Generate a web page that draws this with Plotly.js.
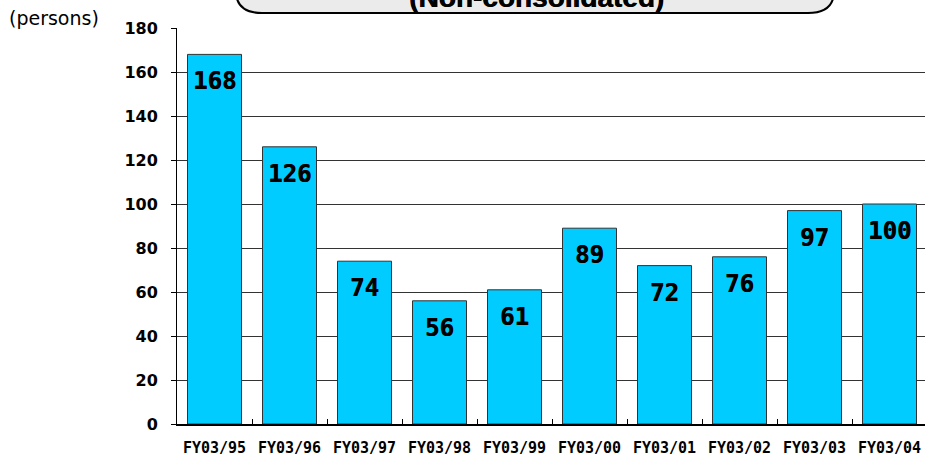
<!DOCTYPE html>
<html>
<head>
<meta charset="utf-8">
<script src="https://cdn.plot.ly/plotly-3.0.1.min.js"></script>
<style>html,body{margin:0;padding:0;background:#fff;}#chart{width:925px;height:456px;}</style>
</head>
<body>
<div id="chart"></div>
<script>
const categories = ["FY03/95","FY03/96","FY03/97","FY03/98","FY03/99","FY03/00","FY03/01","FY03/02","FY03/03","FY03/04"];
const employees = [168,126,74,56,61,89,72,76,97,100];
const yTicks = [0,20,40,60,80,100,120,140,160,180];
const unitLabel = "(persons)";
const titleText = "(Non-consolidated)";

const W = 925, H = 456, L = 177, R = 0, T = 28, B = 32;
const pw = W - L - R, ph = H - T - B;
const px = v => (v - L) / pw;          // pixel x -> paper x
const py = v => (H - B - v) / ph;      // pixel y -> paper y

// rounded title box path (paper coords)
const bx0 = 236, bx1 = 834, by0 = -40, by1 = 13, rx = 26, ry = 22;
const boxPath = [
  "M", px(bx0), py(by0),
  "L", px(bx0), py(by1 - ry),
  "Q", px(bx0), py(by1), px(bx0 + rx), py(by1),
  "L", px(bx1 - rx), py(by1),
  "Q", px(bx1), py(by1), px(bx1), py(by1 - ry),
  "L", px(bx1), py(by0), "Z"
].join(" ");

const annotations = categories.map((c, i) => ({
  x: c, y: employees[i], xref: "x", yref: "y",
  text: String(employees[i]), showarrow: false,
  yanchor: "middle", yshift: -27,
  font: {family: "DejaVu Sans Mono", size: 24, color: "#000", weight: "bold", shadow: "0.6px 0 0 #000"}
}));
annotations.push({
  xref: "paper", yref: "paper", x: 0, y: 1, xshift: -L + 7, yshift: 10,
  xanchor: "left", yanchor: "middle", showarrow: false,
  text: unitLabel, font: {family: "DejaVu Sans", size: 19, color: "#000"}
});
annotations.push({
  xref: "paper", yref: "paper", x: px(536), y: py(-3),
  xanchor: "center", yanchor: "middle", showarrow: false,
  text: "<b>" + titleText + "</b>", font: {family: "Liberation Sans", size: 28, color: "#000", shadow: "0.6px 0 0 #000"}
});

const data = [{
  type: "bar", x: categories, y: employees,
  marker: {color: "#00ccff", line: {color: "#333", width: 1}},
  hoverinfo: "none"
}];

const layout = {
  width: W, height: H,
  margin: {l: L, r: R, t: T, b: B, pad: 0},
  paper_bgcolor: "#fff", plot_bgcolor: "#fff",
  bargap: 0.28,
  showlegend: false,
  xaxis: {
    type: "category", range: [-0.5, -0.5 + pw / 75],
    showline: true, linecolor: "#000", linewidth: 2,
    ticks: "inside", tickson: "boundaries", ticklen: 5, tickcolor: "#000",
    showgrid: false, ticklabelstandoff: 9,
    tickfont: {family: "DejaVu Sans Mono", size: 15, color: "#000", weight: "bold"}
  },
  yaxis: {
    range: [0, 180], tickvals: yTicks,
    showline: true, linecolor: "#000", linewidth: 1,
    ticks: "outside", ticklen: 5, tickcolor: "#000",
    showgrid: true, gridcolor: "#333", gridwidth: 1,
    zeroline: false, ticklabelstandoff: 10,
    tickfont: {family: "DejaVu Sans", size: 16, color: "#000", weight: "bold"}
  },
  shapes: [{
    type: "path", xref: "paper", yref: "paper", path: boxPath,
    fillcolor: "#ebebeb", line: {color: "#000", width: 2}, layer: "above"
  }],
  annotations: annotations
};

Plotly.newPlot("chart", data, layout, {staticPlot: true, displayModeBar: false});
</script>
</body>
</html>
